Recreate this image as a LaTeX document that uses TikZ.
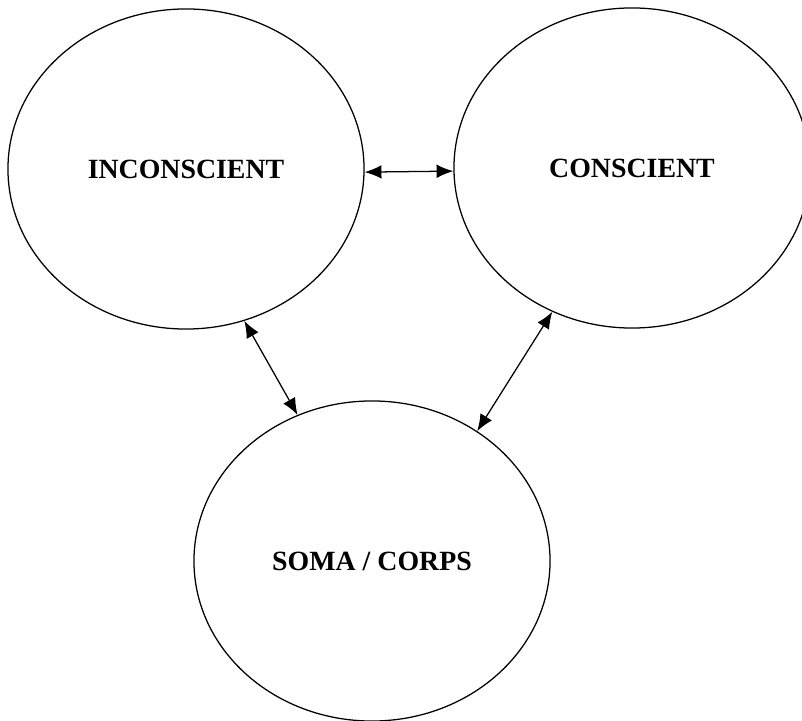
\documentclass[tikz,border=0pt]{standalone}
\usepackage{fontspec}
\setmainfont{Liberation Serif}
\usepackage{tikz}
\usetikzlibrary{shapes.geometric,arrows.meta}

\begin{document}
\begin{tikzpicture}[
  x=0.025cm, y=-0.025cm,
  bubble/.style={ellipse, draw, line width=0.9pt, minimum width=8.9cm, minimum height=8cm, inner sep=0pt},
  link/.style={{Latex[length=0.42cm,width=0.34cm]}-{Latex[length=0.42cm,width=0.34cm]}, line width=0.9pt},
  every node/.style={align=center, font=\fontsize{19.8}{24}\selectfont\bfseries}]

\useasboundingbox (0,0) rectangle (802,721);

% Place the three ellipses at coordinates
\node[bubble] (inconscient) at (186,169) {INCONSCIENT};
\node[bubble] (conscient) at (632,168) {CONSCIENT};
\node[bubble] (somaCorps) at (372,561) {SOMA / CORPS};

% Draw the double arrows between the ellipses
\draw [link] (inconscient.-1.3) -- (conscient.181.6);
\draw [link] (inconscient.-69) -- (somaCorps.117.5);
\draw [link] (conscient.-119.4) -- (somaCorps.51.8);

\end{tikzpicture}
\end{document}
